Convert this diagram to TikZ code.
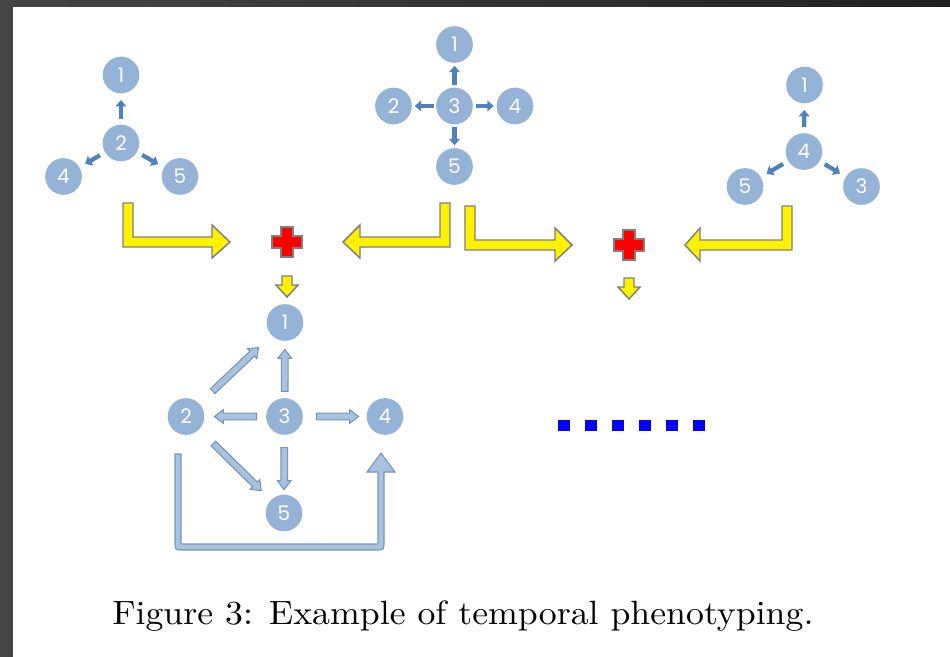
\documentclass[tikz,border=0pt]{standalone}
\usepackage{fontspec}
\newfontfamily\numfont{Poppins}
\usetikzlibrary{arrows.meta,calc,shapes.arrows}

\definecolor{circfill}{HTML}{95B3D7}
\definecolor{darrow}{HTML}{4F81BD}
\definecolor{blkfill}{HTML}{A9C2DD}
\definecolor{blkline}{HTML}{7595BB}
\definecolor{ygray}{HTML}{7F7F7F}
\definecolor{framegray}{HTML}{454545}

\tikzset{
  num/.style={circle, fill=circfill, minimum size=27.5pt, inner sep=0pt, outer sep=0pt,
    text=white, font=\numfont\fontsize{15}{16}\selectfont},
  sarr/.style={draw=darrow, line width=3.2pt, -{Triangle[width=8pt,length=4.8pt]}},
  blk/.style={single arrow, draw=blkline, fill=blkfill, line width=0.8pt,
    inner xsep=0pt, inner ysep=2.1pt, single arrow head extend=2.6pt,
    single arrow tip angle=75, anchor=tail, minimum width=0pt},
  yarr/.style={fill=yellow, draw=ygray, line width=1.1pt, line join=miter},
  redcross/.style={fill=red, draw=ygray, line width=0.9pt},
  bluedot/.style={fill=blue}
}

% block arrow between two nodes: #3 and #4 are the distances from the centres
\newcommand\blkarrow[4]{%
  \path let \p1=($(#1)!#3!(#2)$), \p2=($(#2)!#4!(#1)$),
    \n1={atan2(\y2-\y1,\x2-\x1)}, \n2={veclen(\x2-\x1,\y2-\y1)} in
    node[blk, rotate=\n1, minimum height=\n2] at (\p1) {};}

% plus sign centred at (#1,#2)
\newcommand\plussign[2]{%
  \draw[redcross] (#1-6,#2-15) -- (#1+6,#2-15) -- (#1+6,#2-6) -- (#1+15,#2-6)
    -- (#1+15,#2+6) -- (#1+6,#2+6) -- (#1+6,#2+15) -- (#1-6,#2+15) -- (#1-6,#2+6)
    -- (#1-15,#2+6) -- (#1-15,#2-6) -- (#1-6,#2-6) -- cycle;}

% small downward arrow: centre x, top y
\newcommand\downarr[2]{%
  \draw[yarr] (#1-5,#2) -- (#1+5,#2) -- (#1+5,#2+9) -- (#1+11,#2+9) -- (#1,#2+21)
    -- (#1-11,#2+9) -- (#1-5,#2+9) -- cycle;}

\begin{document}
\begin{tikzpicture}[x=0.75pt,y=-0.75pt]
\useasboundingbox (0,0) rectangle (950,657);
\fill[white] (0,0) rectangle (950,657);

% window frame
\fill[framegray] (0,0) rectangle (13,657);
\shade[left color=framegray, right color=black!87] (0,0) rectangle (950,6);

% first graph
\node[num] (a1) at (121,75) {1};
\node[num] (a2) at (121,143) {2};
\node[num] (a4) at (63.5,176.5) {4};
\node[num] (a5) at (180,176.5) {5};
\foreach \t in {a1,a4,a5}
  \draw[sarr, shorten <=4.5pt, shorten >=5pt] (a2) -- (\t);

% second graph
\node[num] (m1) at (454.5,44.5) {1};
\node[num] (m3) at (454.5,106) {3};
\node[num] (m2) at (393.5,106) {2};
\node[num] (m4) at (515,106) {4};
\node[num] (m5) at (454.5,166.5) {5};
\foreach \t in {m1,m2,m4,m5}
  \draw[sarr, shorten <=2pt, shorten >=2.2pt] (m3) -- (\t);

% third graph
\node[num] (r1) at (804.5,85) {1};
\node[num] (r4) at (804,151.5) {4};
\node[num] (r5) at (745,186.5) {5};
\node[num] (r3) at (861.5,186.5) {3};
\foreach \t in {r1,r5,r3}
  \draw[sarr, shorten <=4.5pt, shorten >=5pt] (r4) -- (\t);

% bent arrows and plus signs
\draw[yarr] (123,203) -- (123,247) -- (212,247) -- (212,258) -- (230,242) -- (212,225)
  -- (212,237) -- (133,237) -- (133,203) -- cycle;
\draw[yarr] (450,203) -- (450,247) -- (360,247) -- (360,258) -- (343,242) -- (360,225)
  -- (360,237) -- (440,237) -- (440,203) -- cycle;
\plussign{287}{242}
\downarr{287}{276}

\draw[yarr] (465,206) -- (465,250) -- (555,250) -- (555,261) -- (572,245) -- (555,228)
  -- (555,240) -- (475,240) -- (475,206) -- cycle;
\draw[yarr] (792,206) -- (792,250) -- (700,250) -- (700,261) -- (685,245) -- (700,228)
  -- (700,240) -- (782,240) -- (782,206) -- cycle;
\plussign{629}{245}
\downarr{629}{278}

% merged graph
\node[num] (b1) at (285,322.5) {1};
\node[num] (b2) at (186,416.5) {2};
\node[num] (b3) at (284.5,416.5) {3};
\node[num] (b4) at (385,416.5) {4};
\node[num] (b5) at (284,513) {5};
\blkarrow{b3}{b1}{18.4pt}{20.6pt}
\blkarrow{b3}{b2}{20.6pt}{21.75pt}
\blkarrow{b3}{b4}{23.6pt}{20.25pt}
\blkarrow{b3}{b5}{22.9pt}{18pt}
\blkarrow{b2}{b1}{27.2pt}{27.7pt}
\blkarrow{b2}{b5}{28.4pt}{24.3pt}
\draw[fill=blkfill, draw=blkline, line width=0.8pt]
  (175,454) -- (175,542) .. controls (175,550) .. (183,550) -- (376,550)
  .. controls (384,550) .. (384,542) -- (384,472) -- (395,472) -- (381,453)
  -- (367,472) -- (378,472) -- (378,542) .. controls (378,544) .. (376,544)
  -- (183,544) .. controls (181,544) .. (181,542) -- (181,454) -- cycle;

% continuation dots
\foreach \i in {0,...,5}
  \fill[bluedot] (558+27*\i,419.5) rectangle ++(11.5,11.5);

% caption
\node[anchor=base west, inner sep=0pt] (cap) at (112,624)
  {\resizebox{525.75pt}{17.8pt}{\fontsize{10}{12}\selectfont Figure 3: Example of temporal phenotyping.}};
\end{tikzpicture}
\end{document}
